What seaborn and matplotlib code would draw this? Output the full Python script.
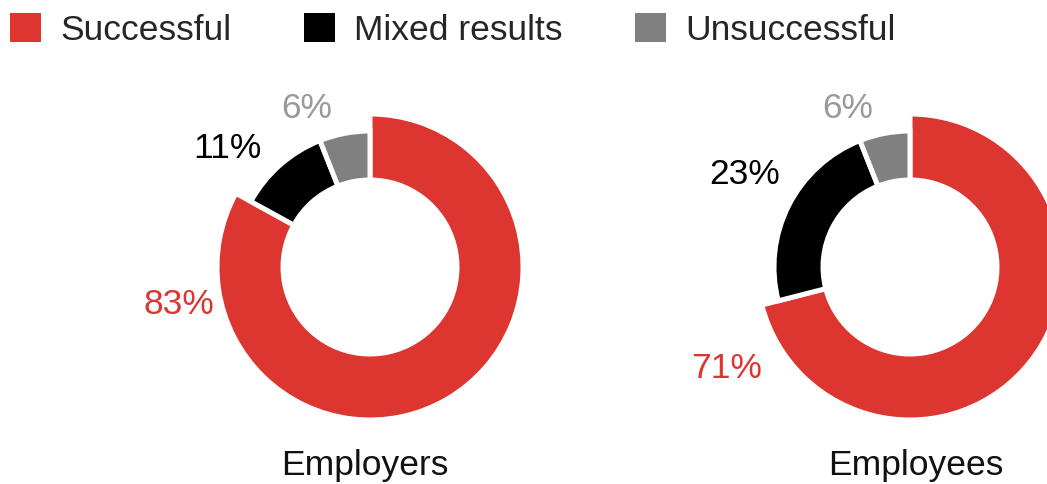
import numpy as np
import matplotlib
matplotlib.use("Agg")
import matplotlib.pyplot as plt
from matplotlib.patches import Patch
import seaborn as sns

sns.set_theme(style="white")
plt.rcParams['font.family'] = ['Liberation Sans', 'DejaVu Sans']

# ---- data ----
groups = ["Employers", "Employees"]
categories = ["Successful", "Mixed results", "Unsuccessful"]
successful = [83, 71]
mixed = [11, 23]
unsuccessful = [6, 6]

colors = ["#DD352F", "#000000", "#808080"]
label_colors = ["#DD352F", "#000000", "#999999"]

W, H = 1047, 484
fig = plt.figure(figsize=(W / 100, H / 100), dpi=100)
ax = fig.add_axes([0, 0, 1, 1])

centers_x = [370, 910]
title_dx = [-5, 6]
center_y = H - 267
r_big, r_small, r_in = 153, 136, 87
lw_px = 5
lw_pt = lw_px * 0.72
fs = 25.5
# label offsets from donut centre in pixels (layout only)
label_offsets = [
    [(-191, -38), (-143, 119), (-63, 159)],
    [(-183, -101), (-165, 92), (-62, 159)],
]

for i, g in enumerate(groups):
    vals = [successful[i], mixed[i], unsuccessful[i]]
    cx = centers_x[i]
    wedges, _ = ax.pie(vals, colors=colors, startangle=90, counterclock=False,
                       center=(cx, center_y), radius=r_big,
                       wedgeprops=dict(width=r_big - r_in, edgecolor="white",
                                       linewidth=lw_pt))
    for j, w in enumerate(wedges):
        if j > 0:
            w.set_radius(r_small)
            w.set_width(r_small - r_in)
    for j, v in enumerate(vals):
        dx, dy = label_offsets[i][j]
        ax.text(cx + dx, center_y + dy, f"{v}%", color=label_colors[j],
                fontsize=fs, ha="center", va="center")
    ax.text(cx + title_dx[i], H - 465, g, fontsize=fs, ha="center",
            va="center", color="#111111")

ax.set_xlim(0, W)
ax.set_ylim(0, H)
ax.set_aspect("equal")
ax.axis("off")

handles = [Patch(facecolor=c, edgecolor="none") for c in colors]
leg = ax.legend(handles, categories, loc="upper left",
                bbox_to_anchor=(10 / W, 1 - 13 / H), ncol=3, frameon=False,
                fontsize=fs, handlelength=0.875, handleheight=0.875,
                handletextpad=0.54, columnspacing=2.05, borderpad=0,
                borderaxespad=0)

fig.savefig("out.png", dpi=100)
